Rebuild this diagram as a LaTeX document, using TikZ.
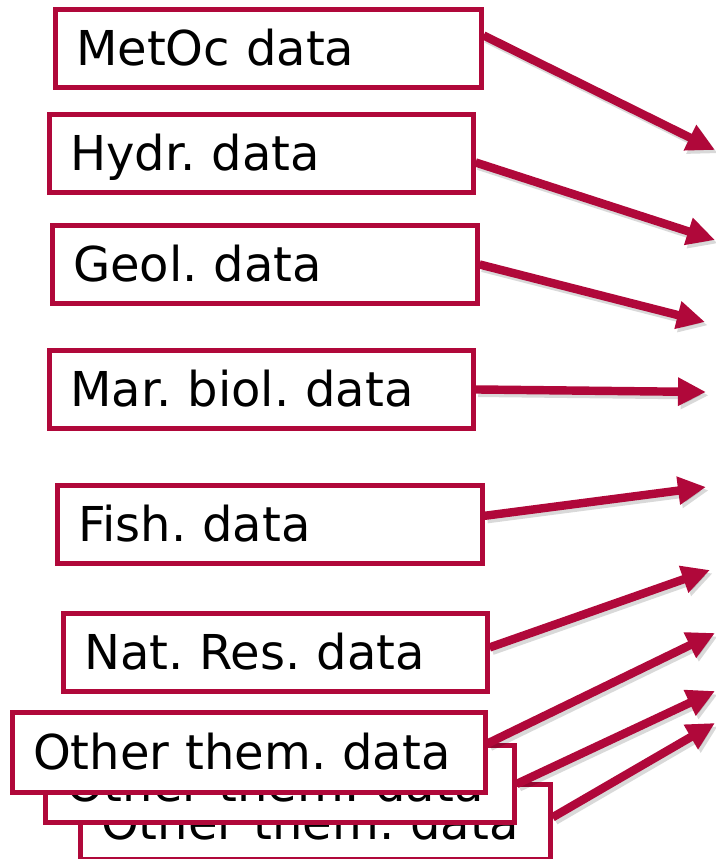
\documentclass[tikz,border=0pt]{standalone}
\usepackage{fontspec}
\setmainfont{DejaVu Sans}
\usepackage{tikz}
\usetikzlibrary{arrows.meta,positioning}
\definecolor{datared}{HTML}{B0083A}
\frenchspacing

\begin{document}
\begin{tikzpicture}[
    x=0.03cm, y=-0.03cm,
    >={Triangle[length=0.84cm,width=0.8cm]},
    databox/.style={draw=datared, line width=4.2pt, fill=white, anchor=north west,
        inner xsep=0.62cm, minimum height=2.34cm, align=left,
        text height=29.5pt, text depth=0pt, font=\fontsize{41}{49}\selectfont},
    feed/.style={->, datared, line width=7.2pt,
        preaction={draw=black, opacity=0.15, line width=7.2pt, ->,
            transform canvas={shift={(0.08cm,-0.1cm)}}}}
]
    \useasboundingbox (0,0) rectangle (715,859);

    % === DATA SOURCES ===
    \node[databox, text width=11.53cm] (metoc) at (53,7) {MetOc data};
    \node[databox, text width=11.47cm] (hydr) at (47,112) {Hydr. data};
    \node[databox, text width=11.50cm] (geol) at (50,223) {Geol. data};
    \node[databox, text width=11.47cm] (marbiol) at (47,348) {Mar. biol. data};
    \node[databox, text width=11.50cm] (fish) at (55,483) {Fish. data};
    \node[databox, text width=11.47cm] (natres) at (61,611) {Nat. Res. data};

    % Stacked boxes for the other themes (back to front)
    \node[databox, text width=12.85cm, minimum height=2.25cm] (otherc) at (78,782) {Other them. data};
    \node[databox, text width=12.82cm, minimum height=2.31cm] (otherb) at (43,743) {Other them. data};
    \node[databox, text width=12.94cm, minimum height=2.4cm] (othera) at (10,710) {Other them. data};

    % Arrow targets
    \coordinate (t1) at (715,150);
    \coordinate (t2) at (715,240);
    \coordinate (t3) at (705,322);
    \coordinate (t4) at (706,392);
    \coordinate (t5) at (706,487);
    \coordinate (t6) at (710,570);
    \coordinate (t7) at (715,633);
    \coordinate (t8) at (715,691);
    \coordinate (t9) at (715,723);

    % === ARROWS ===
    \draw[feed] ([yshift=0.39cm]metoc.east) -- (t1);
    \draw[feed] ([yshift=-0.27cm]hydr.east) -- (t2);
    \draw[feed] (geol.east) -- (t3);
    \draw[feed] (marbiol.east) -- (t4);
    \draw[feed] ([yshift=0.26cm]fish.east) -- (t5);
    \draw[feed] ([yshift=0.15cm]natres.east) -- (t6);
    \draw[feed] ([yshift=0.27cm]othera.east) -- (t7);
    \draw[feed] (otherb.east) -- (t8);
    \draw[feed] ([yshift=0.14cm]otherc.east) -- (t9);
\end{tikzpicture}
\end{document}
